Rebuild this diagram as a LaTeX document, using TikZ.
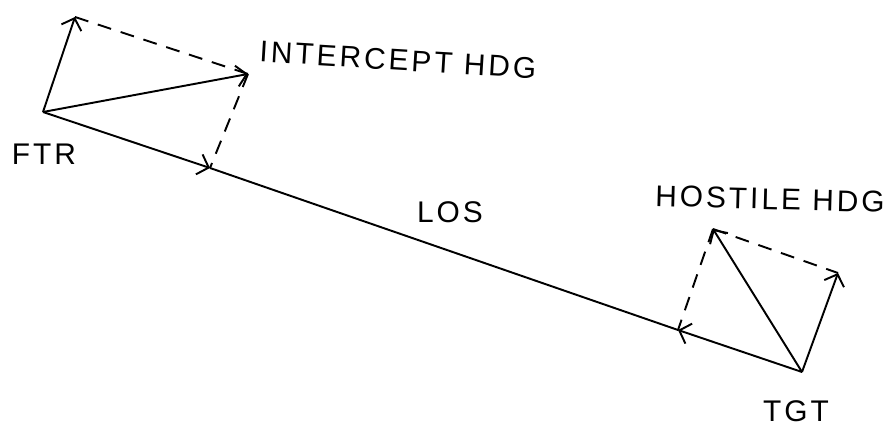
\documentclass[tikz,border=0pt]{standalone}
\usepackage{fontspec}
\usepackage{tikz}
\usetikzlibrary{arrows.meta}
\newfontfamily\hand[LetterSpace=10]{Liberation Sans}
\tikzset{
  vec/.style={-{Straight Barb[length=2mm,width=4.2mm]},line width=1.1pt},
  comp/.style={line width=1.1pt,dash pattern=on 0.28cm off 0.2cm},
  lbl/.style={inner sep=0pt,font=\hand\fontsize{17}{20}\selectfont}
}

\begin{document}
\begin{tikzpicture}
      \useasboundingbox (0,0) rectangle (17.82,8.58);
      \coordinate (ftr) at (0.86,6.34);
      \coordinate (tgt) at (16.04,1.14);
      \coordinate (fperp) at (1.50,8.24);
      \coordinate (fhdg) at (4.96,7.10);
      \coordinate (flos) at (4.20,5.22);
      \coordinate (thdg) at (14.26,4.00);
      \coordinate (tperp) at (16.76,3.12);
      \coordinate (tlos) at (13.56,1.98);

      \node [lbl] (ftrlbl) at (0.88,5.50) {FTR};
      \node [lbl,rotate=-3.5] (intlbl) at (7.96,7.38) {INTERCEPT HDG};
      \node [lbl] (loslbl) at (9.00,4.34) {LOS};
      \node [lbl,rotate=-1.5] (hostlbl) at (15.40,4.60) {HOSTILE HDG};
      \node [lbl] (tgtlbl) at (15.92,0.36) {TGT};

      \draw[vec] (ftr) -- (fperp);
      \draw[vec] (ftr) -- (fhdg);
      \draw[vec] (ftr) -- (flos);
      \draw[line width=1.1pt] (flos) -- (tlos);
      \draw[vec] (tgt) -- (tlos);
      \draw[vec] (tgt) -- (thdg);
      \draw[vec] (tgt) -- (tperp);
      \draw[comp] (fperp) -- (fhdg);
      \draw[comp] (fhdg) -- (flos);
      \draw[comp] (thdg) -- (tperp);
      \draw[comp] (thdg) -- (tlos);
    \end{tikzpicture}
\end{document}
